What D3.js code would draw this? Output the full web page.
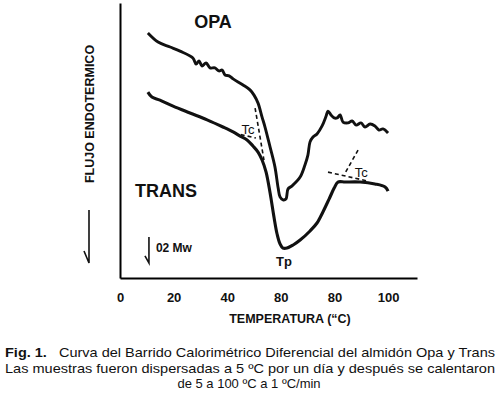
<!DOCTYPE html>
<html>
<head>
<meta charset="utf-8">
<script src="https://cdn.jsdelivr.net/npm/d3@7"></script>
<style>
  body { margin: 0; background: #fff; }
  svg { font-family: "Liberation Sans", Arial, sans-serif; }
</style>
</head>
<body>
<div id="chart"></div>
<script>
// temperature (°C) and heat flow (arbitrary units, 1 unit ~ 0.2 mW)
const opaTemp = [10.4, 14.2, 18.7, 22.4, 27.2, 28.4, 29.5, 30.6, 32.1, 33.6, 35.4, 36.9, 38.1, 39.2, 40.7, 42.2,
  45.9, 48.5, 50.0, 51.5, 53.0, 54.1, 56.0, 57.8, 59.0, 59.7, 60.8, 61.9, 62.7, 64.2, 67.2, 69.0, 70.1, 70.9,
  72.0, 73.5, 75.4, 76.9, 77.6, 78.7, 79.9, 81.0, 82.1, 83.2, 85.1, 86.6, 88.1, 89.9, 91.4, 93.3, 95.1, 96.6, 98.1, 100];
const opaFlow = [8.91, 8.58, 8.40, 8.25, 8.00, 7.78, 7.89, 7.71, 7.82, 7.64, 7.64, 7.53, 7.56, 7.38, 7.35, 7.24,
  7.02, 6.84, 6.65, 6.36, 5.85, 5.49, 4.76, 4.04, 3.27, 2.95, 2.84, 2.87, 3.24, 3.35, 3.67, 4.11, 4.47, 4.95,
  5.13, 5.24, 5.53, 5.89, 6.07, 5.93, 5.82, 5.82, 5.93, 5.67, 5.64, 5.71, 5.56, 5.64, 5.49, 5.60, 5.53, 5.38, 5.42, 5.27];

const transTemp = [10.4, 11.9, 14.9, 19.8, 26.1, 32.5, 38.4, 42.2, 44.8, 47.4, 49.6, 51.5, 53.0, 54.5, 56.0, 57.5,
  58.6, 59.7, 60.8, 62.3, 64.6, 67.2, 70.9, 73.5, 75.7, 78.0, 79.9, 81.3, 84.0, 89.6, 95.1, 98.9, 100];
const transFlow = [6.76, 6.58, 6.47, 6.25, 6.00, 5.75, 5.49, 5.31, 5.16, 5.02, 4.80, 4.58, 4.29, 3.85, 3.09, 2.18,
  1.60, 1.24, 1.09, 1.09, 1.20, 1.38, 1.71, 2.00, 2.40, 2.87, 3.27, 3.49, 3.49, 3.49, 3.42, 3.31, 3.16];

// onset construction lines (dashed)
const tcLines = [
  [[42.5, 5.27], [50.7, 5.09]],
  [[50.4, 6.18], [53.7, 4.29]],
  [[88.8, 4.65], [84.0, 3.82]],
  [[77.6, 3.85], [92.2, 3.53]]
];

const xTicks = [0, 20, 40, 60, 80, 100];
const xTickLabels = ["0", "20", "40", "80", "80", "100"];

const labels = [
  { text: "OPA", t: 34.7, v: 9.09, size: 18, weight: "bold", anchor: "middle" },
  { text: "TRANS", t: 5.6, v: 2.95, size: 18, weight: "bold", anchor: "start" },
  { text: "Tc", t: 45.3, v: 5.24, size: 13, weight: "normal", anchor: "start" },
  { text: "Tc", t: 87.6, v: 3.67, size: 13, weight: "normal", anchor: "start" },
  { text: "Tp", t: 61.2, v: 0.44, size: 13, weight: "bold", anchor: "middle" },
  { text: "02 Mw", t: 13.4, v: 0.95, size: 12, weight: "bold", anchor: "start" }
];

const width = 500, height = 395;

const svg = d3.select("#chart").append("svg")
  .attr("width", width)
  .attr("height", height);

const x = d3.scaleLinear().domain([0, 110.8]).range([120, 417]);
const y = d3.scaleLinear().domain([0, 10]).range([278, 3]);

// axes
svg.append("g")
  .attr("transform", `translate(0,${y(0)})`)
  .call(d3.axisBottom(x).tickValues(xTicks).tickSize(0).tickPadding(15)
    .tickFormat((d, i) => xTickLabels[i]))
  .call(g => g.select(".domain").attr("stroke-width", 2))
  .selectAll("text")
  .style("font-size", "13px")
  .style("font-weight", "bold")
  .style("font-family", "'Liberation Sans', Arial, sans-serif")
  .attr("fill", "#111");

svg.append("g")
  .attr("transform", `translate(${x(0)},0)`)
  .call(d3.axisLeft(y).tickValues([]).tickSize(0))
  .call(g => g.select(".domain").attr("stroke-width", 2));

const line = d3.line()
  .x(d => x(d[0]))
  .y(d => y(d[1]))
  .curve(d3.curveCatmullRom.alpha(0.5));

svg.append("path")
  .datum(d3.zip(opaTemp, opaFlow))
  .attr("d", line)
  .attr("fill", "none")
  .attr("stroke", "#111")
  .attr("stroke-width", 2.9)
  .attr("stroke-linejoin", "round");

svg.append("path")
  .datum(d3.zip(transTemp, transFlow))
  .attr("d", line)
  .attr("fill", "none")
  .attr("stroke", "#111")
  .attr("stroke-width", 3.1)
  .attr("stroke-linejoin", "round");

svg.selectAll(".tc")
  .data(tcLines)
  .join("path")
  .attr("class", "tc")
  .attr("d", d3.line().x(d => x(d[0])).y(d => y(d[1])))
  .attr("fill", "none")
  .attr("stroke", "#111")
  .attr("stroke-width", 1.6)
  .attr("stroke-dasharray", "4,3");

svg.selectAll(".lbl")
  .data(labels)
  .join("text")
  .attr("class", "lbl")
  .attr("x", d => x(d.t))
  .attr("y", d => y(d.v))
  .attr("text-anchor", d => d.anchor)
  .style("font-size", d => d.size + "px")
  .style("font-weight", d => d.weight)
  .attr("fill", "#111")
  .text(d => d.text);

// scale arrow for 0.2 mW
svg.append("path")
  .attr("d", `M${x(10.8)},${y(1.49)}V${y(0.55)}l-4,-7`)
  .attr("fill", "none")
  .attr("stroke", "#111")
  .attr("stroke-width", 1.6);

// y axis title and direction arrow
svg.append("text")
  .attr("transform", "translate(94,114) rotate(-90)")
  .attr("text-anchor", "middle")
  .style("font-size", "12.5px")
  .style("font-weight", "bold")
  .attr("fill", "#111")
  .text("FLUJO ENDOTERMICO");

svg.append("path")
  .attr("d", "M89,210V263l-5,-12")
  .attr("fill", "none")
  .attr("stroke", "#111")
  .attr("stroke-width", 1.6);

svg.append("text")
  .attr("x", 290)
  .attr("y", 323)
  .attr("text-anchor", "middle")
  .style("font-size", "12.5px")
  .style("font-weight", "bold")
  .attr("fill", "#111")
  .text("TEMPERATURA (“C)");

// caption
const cap1 = svg.append("text")
  .attr("x", 5)
  .attr("y", 357)
  .attr("textLength", 490)
  .attr("lengthAdjust", "spacingAndGlyphs")
  .style("font-size", "13px")
  .attr("fill", "#111");
cap1.append("tspan").style("font-weight", "bold").text("Fig. 1.");
cap1.append("tspan").text("\u00a0\u00a0\u00a0Curva del Barrido Calorimétrico Diferencial del almidón Opa y Trans");

svg.append("text")
  .attr("x", 5)
  .attr("y", 373)
  .attr("textLength", 490)
  .attr("lengthAdjust", "spacingAndGlyphs")
  .style("font-size", "13px")
  .attr("fill", "#111")
  .text("Las muestras fueron dispersadas a 5 ºC por un día y después se calentaron");

svg.append("text")
  .attr("x", 249)
  .attr("y", 388)
  .attr("text-anchor", "middle")
  .style("font-size", "13px")
  .attr("fill", "#111")
  .text("de 5 a 100 ºC a 1 ºC/min");
</script>
</body>
</html>
